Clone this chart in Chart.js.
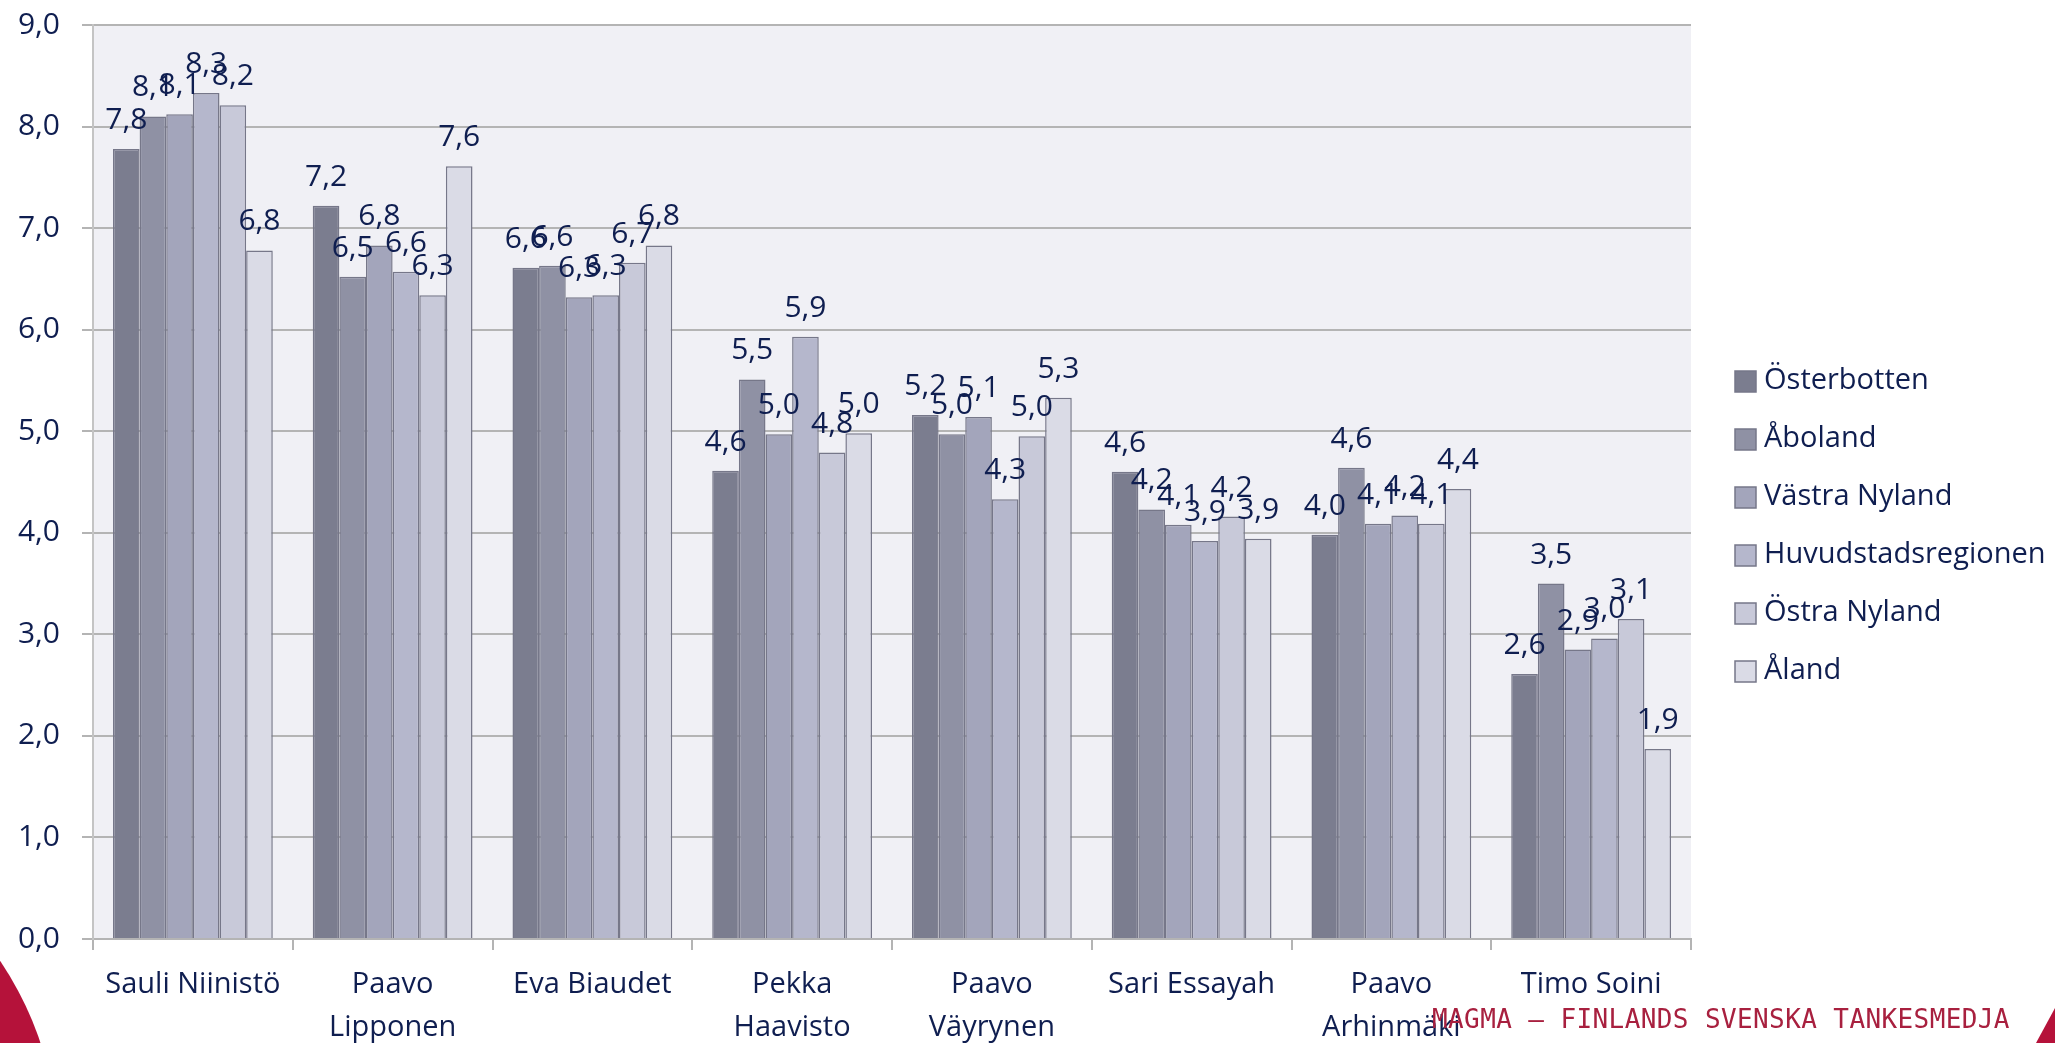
<!DOCTYPE html>
<html>
<head>
<meta charset="utf-8">
<script src="https://cdn.jsdelivr.net/npm/chart.js@4.4.1/dist/chart.umd.min.js"></script>
<style>
  body { margin: 0; background: #fff; overflow: hidden; }
  #wrap { position: relative; width: 2055px; height: 1043px; }
  #magma {
    position: absolute; left: 1432px; top: 1004px;
    font-family: "DejaVu Sans Mono", monospace; font-size: 26px;
    color: #a8203f; letter-spacing: 0.4px; white-space: nowrap;
  }
  #rund {
    position: absolute; left: -618px; top: 812px;
    width: 676px; height: 676px; border-radius: 50%; background: #b5123a;
  }
  #horn {
    position: absolute; left: 2036px; top: 1008px; width: 19px; height: 35px;
    background: #b5123a; clip-path: polygon(100% 0, 100% 100%, 0 100%);
  }
</style>
</head>
<body>
<div id="wrap">
  <canvas id="graf"></canvas>
  <div id="rund"></div>
  <div id="horn"></div>
  <div id="magma">MAGMA – FINLANDS SVENSKA TANKESMEDJA</div>
</div>
<script>
const kandidater = [
  'Sauli Niinistö', ['Paavo', 'Lipponen'], 'Eva Biaudet', ['Pekka', 'Haavisto'],
  ['Paavo', 'Väyrynen'], 'Sari Essayah', ['Paavo', 'Arhinmäki'], 'Timo Soini'
];
const regioner = ['Österbotten', 'Åboland', 'Västra Nyland', 'Huvudstadsregionen', 'Östra Nyland', 'Åland'];
const osterbotten = [7.78, 7.22, 6.61, 4.61, 5.16, 4.60, 3.98, 2.61];
const aboland     = [8.10, 6.52, 6.63, 5.51, 4.97, 4.23, 4.64, 3.50];
const vastraNyl   = [8.12, 6.83, 6.32, 4.97, 5.14, 4.08, 4.09, 2.85];
const huvudstad   = [8.33, 6.57, 6.34, 5.93, 4.33, 3.92, 4.17, 2.96];
const ostraNyl    = [8.21, 6.34, 6.66, 4.79, 4.95, 4.16, 4.09, 3.15];
const aland       = [6.78, 7.61, 6.83, 4.98, 5.33, 3.94, 4.43, 1.87];
const yTicks = [0, 1, 2, 3, 4, 5, 6, 7, 8, 9];

const serier = [osterbotten, aboland, vastraNyl, huvudstad, ostraNyl, aland];
const farger = ['#7b7d8f', '#8f91a4', '#a3a5bb', '#b5b7cc', '#c8c9d9', '#dadbe6'];
const textFarg = '#0f1e50';
const fnt = '"Open Sans", sans-serif';

const fmt = v => v.toFixed(1).replace('.', ',');

// plot background
const bakgrund = {
  id: 'bakgrund',
  beforeDraw(chart) {
    const { ctx, chartArea: a } = chart;
    ctx.save();
    ctx.fillStyle = '#f0f0f5';
    ctx.fillRect(a.left, a.top, a.right - a.left, a.bottom - a.top);
    ctx.restore();
  }
};

// value labels above the bars
const etiketter = {
  id: 'etiketter',
  afterDatasetsDraw(chart) {
    const ctx = chart.ctx;
    ctx.save();
    ctx.font = '30px ' + fnt;
    ctx.fillStyle = textFarg;
    ctx.textAlign = 'center';
    ctx.textBaseline = 'alphabetic';
    chart.data.datasets.forEach((ds, i) => {
      chart.getDatasetMeta(i).data.forEach((bar, j) => {
        ctx.fillText(fmt(ds.data[j]), bar.x, bar.y - 20);
      });
    });
    ctx.restore();
  }
};

// legend on the right
const legend = {
  id: 'egenLegend',
  afterDraw(chart) {
    const ctx = chart.ctx;
    ctx.save();
    ctx.font = '29px ' + fnt;
    ctx.textBaseline = 'middle';
    chart.data.datasets.forEach((ds, i) => {
      const y = 381 + i * 58;
      ctx.fillStyle = ds.backgroundColor;
      ctx.fillRect(1735, y - 10, 21, 21);
      ctx.strokeStyle = '#767789';
      ctx.lineWidth = 1.5;
      ctx.strokeRect(1735, y - 10, 21, 21);
      ctx.fillStyle = textFarg;
      ctx.fillText(ds.label, 1764, y);
    });
    ctx.restore();
  }
};

new Chart(document.getElementById('graf'), {
  type: 'bar',
  data: {
    labels: kandidater,
    datasets: regioner.map((r, i) => ({
      label: r,
      data: serier[i],
      backgroundColor: farger[i],
      borderColor: '#767789',
      borderWidth: 1.5,
      categoryPercentage: 0.8,
      barPercentage: 1.0
    }))
  },
  options: {
    responsive: true,
    maintainAspectRatio: false,
    animation: false,
    layout: { padding: { top: 25, right: 364, left: 0, bottom: 0 } },
    plugins: { legend: { display: false }, tooltip: { enabled: false } },
    scales: {
      x: {
        grid: { offset: true, drawOnChartArea: false, drawTicks: true, tickLength: 11, color: '#b4b4b4', lineWidth: 2 },
        border: { color: '#b4b4b4', width: 2 },
        ticks: { color: textFarg, font: { family: fnt, size: 29, lineHeight: 1.48 }, padding: 13, maxRotation: 0, autoSkip: false },
        afterFit(s) { s.height = 104; }
      },
      y: {
        min: 0, max: 9,
        afterBuildTicks(s) { s.ticks = yTicks.map(v => ({ value: v })); },
        grid: { color: '#b4b4b4', lineWidth: 2, tickLength: 11 },
        border: { color: '#c4c4c4', width: 2 },
        ticks: { color: textFarg, font: { family: fnt, size: 30 }, padding: 22, callback: v => fmt(v) },
        afterFit(s) { s.width = 93; s.paddingTop = 0; s.paddingBottom = 0; }
      }
    }
  },
  plugins: [bakgrund, etiketter, legend]
});
</script>
</body>
</html>
